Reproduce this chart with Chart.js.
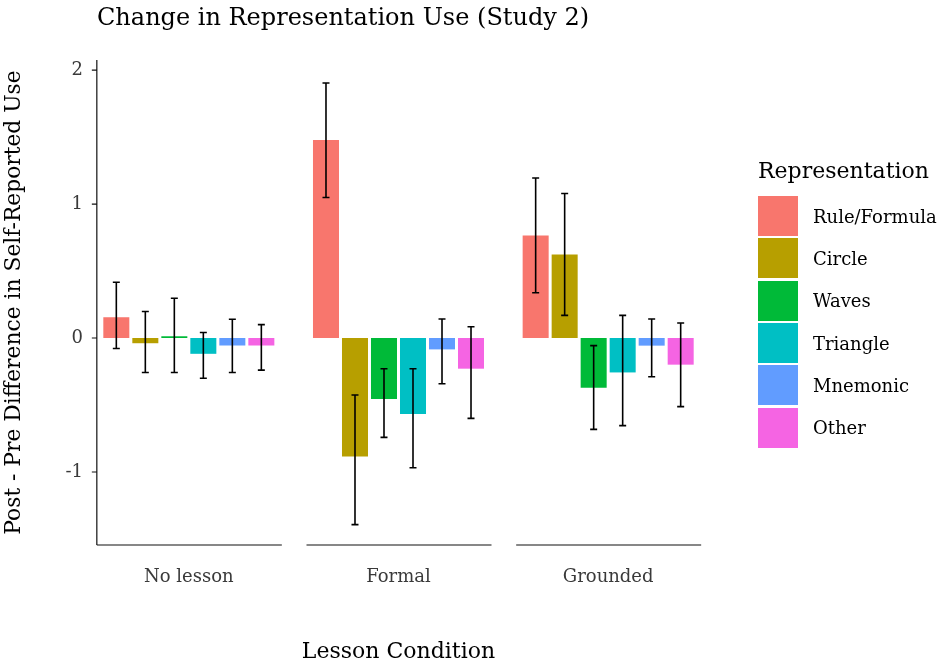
<!DOCTYPE html>
<html>
<head>
<meta charset="utf-8">
<script src="https://cdn.jsdelivr.net/npm/chart.js@4/dist/chart.umd.min.js"></script>
<style>
  html, body { margin: 0; padding: 0; background: #fff; }
  #wrap { position: relative; width: 940px; height: 666px; font-family: "DejaVu Serif", serif; }
  #title { position: absolute; left: 97px; top: 3px; font-size: 24px; color: #000; white-space: nowrap; }
  #legend { position: absolute; left: 758px; top: 158px; }
  #legend .lt { font-size: 22px; margin-bottom: 12px; }
  #legend .item { display: flex; align-items: center; height: 42.3px; }
  #legend .sw { width: 40px; height: 40px; margin-right: 15px; }
  #legend .lab { font-size: 18px; }
</style>
</head>
<body>
<div id="wrap">
  <canvas id="c" width="940" height="666"></canvas>
  <div id="title">Change in Representation Use (Study 2)</div>
  <div id="legend"></div>
</div>
<script>
// lesson conditions on the x axis
const categories = ['No lesson', 'Formal', 'Grounded'];
const seriesNames = ['Rule/Formula', 'Circle', 'Waves', 'Triangle', 'Mnemonic', 'Other'];
const colors = ['#F8766D', '#B79F00', '#00BA38', '#00BFC4', '#619CFF', '#F564E3'];

// mean change, one array per representation (No lesson, Formal, Grounded)
const ruleFormula = [0.155, 1.478, 0.766];
const circle      = [-0.039, -0.884, 0.624];
const waves       = [0.013, -0.455, -0.371];
const triangle    = [-0.118, -0.567, -0.257];
const mnemonic    = [-0.056, -0.085, -0.057];
const other       = [-0.056, -0.229, -0.199];

// error bar ends
const ruleHi     = [0.416, 1.903, 1.194];
const ruleLo     = [-0.078, 1.049, 0.338];
const circleHi   = [0.198, -0.425, 1.079];
const circleLo   = [-0.257, -1.393, 0.169];
const wavesHi    = [0.297, -0.229, -0.057];
const wavesLo    = [-0.257, -0.742, -0.682];
const triangleHi = [0.041, -0.229, 0.169];
const triangleLo = [-0.3, -0.968, -0.654];
const mnemonicHi = [0.14, 0.142, 0.142];
const mnemonicLo = [-0.257, -0.341, -0.289];
const otherHi    = [0.1, 0.084, 0.112];
const otherLo    = [-0.24, -0.6, -0.512];

const yTicks = [-1, 0, 1, 2];

const values = [ruleFormula, circle, waves, triangle, mnemonic, other];
const his = [ruleHi, circleHi, wavesHi, triangleHi, mnemonicHi, otherHi];
const los = [ruleLo, circleLo, wavesLo, triangleLo, mnemonicLo, otherLo];

const datasets = seriesNames.map((name, i) => ({
  label: name,
  data: values[i],
  errHi: his[i],
  errLo: los[i],
  backgroundColor: colors[i],
  borderWidth: 0,
  barPercentage: 0.897,
  categoryPercentage: 0.83
}));

// legend built by hand so it sits where ggplot put it
const leg = document.getElementById('legend');
leg.innerHTML = '<div class="lt">Representation</div>' + seriesNames.map((n, i) =>
  '<div class="item"><div class="sw" style="background:' + colors[i] + '"></div><div class="lab">' + n + '</div></div>').join('');

const PANEL_HALF = 92;

const facetAxes = {
  id: 'facetAxes',
  afterDatasetsDraw(chart) {
    const ctx = chart.ctx, xs = chart.scales.x, ys = chart.scales.y;
    const area = chart.chartArea;
    ctx.save();
    // error bars
    ctx.strokeStyle = '#000';
    ctx.lineWidth = 1.6;
    chart.data.datasets.forEach((ds, i) => {
      chart.getDatasetMeta(i).data.forEach((bar, j) => {
        const x = bar.x;
        const y1 = ys.getPixelForValue(ds.errHi[j]);
        const y2 = ys.getPixelForValue(ds.errLo[j]);
        ctx.beginPath();
        ctx.moveTo(x, y1); ctx.lineTo(x, y2);
        ctx.moveTo(x - 3.5, y1); ctx.lineTo(x + 3.5, y1);
        ctx.moveTo(x - 3.5, y2); ctx.lineTo(x + 3.5, y2);
        ctx.stroke();
      });
    });
    // panel x axes
    ctx.strokeStyle = '#111';
    ctx.lineWidth = 1.2;
    categories.forEach((c, j) => {
      const cx = xs.getPixelForValue(j);
      ctx.beginPath();
      ctx.moveTo(cx - PANEL_HALF, area.bottom);
      ctx.lineTo(cx + PANEL_HALF + 1, area.bottom);
      ctx.stroke();
    });
    // y axis of first panel
    const ax = xs.getPixelForValue(0) - PANEL_HALF;
    ctx.beginPath();
    ctx.moveTo(ax, area.top);
    ctx.lineTo(ax, area.bottom);
    ys.ticks.forEach(t => {
      const py = ys.getPixelForValue(t.value);
      ctx.moveTo(ax - 5, py);
      ctx.lineTo(ax, py);
    });
    ctx.stroke();
    ctx.restore();
  }
};

new Chart(document.getElementById('c'), {
  type: 'bar',
  data: { labels: categories, datasets: datasets },
  options: {
    responsive: false,
    animation: false,
    layout: { padding: { left: 0, right: 227, top: 60, bottom: 0 } },
    plugins: { legend: { display: false }, tooltip: { enabled: false } },
    scales: {
      x: {
        grid: { display: false, drawTicks: false },
        border: { display: false },
        ticks: { color: '#3a3a3a', font: { family: 'DejaVu Serif', size: 18 }, padding: 22 },
        title: { display: true, text: 'Lesson Condition', color: '#000', font: { family: 'DejaVu Serif', size: 22 }, padding: { top: 0, bottom: 1 } },
        afterFit: s => { s.height = 121; }
      },
      y: {
        min: -1.545,
        max: 2.075,
        grid: { display: false, drawTicks: false },
        border: { display: false },
        afterBuildTicks: s => { s.ticks = yTicks.map(v => ({ value: v })); },
        ticks: { color: '#3a3a3a', font: { family: 'DejaVu Serif', size: 18 }, padding: 1 },
        title: { display: true, text: 'Post - Pre Difference in Self-Reported Use', color: '#000', font: { family: 'DejaVu Serif', size: 21.8 }, padding: { top: 1, bottom: 0 } },
        afterFit: s => { s.width = 84; }
      }
    }
  },
  plugins: [facetAxes]
});
</script>
</body>
</html>
